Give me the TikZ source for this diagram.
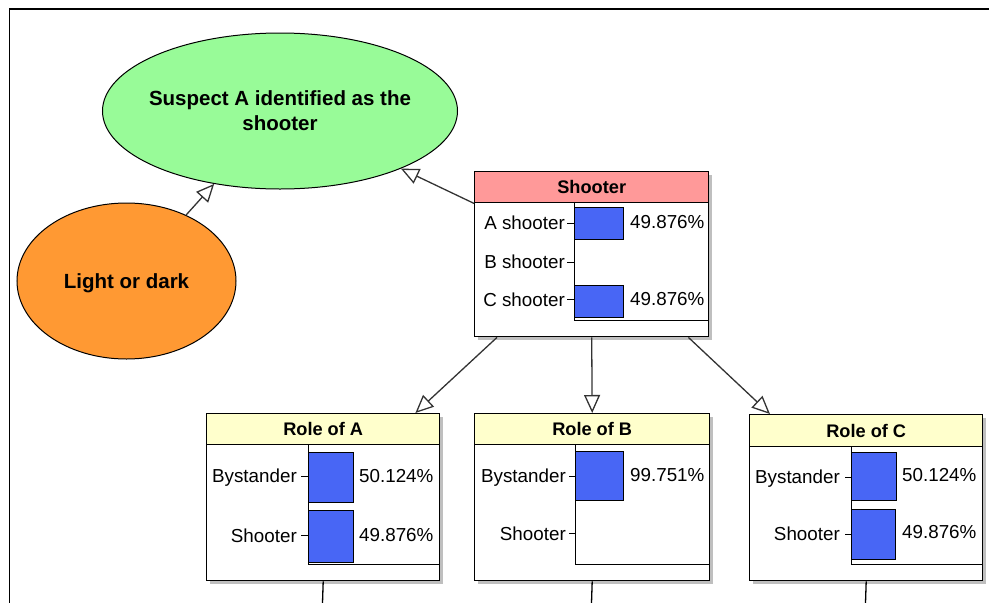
\documentclass[tikz,border=0pt]{standalone}
\usepackage{fontspec}
\setmainfont{Liberation Sans}
\usepackage{xcolor}
\usetikzlibrary{arrows.meta,positioning,calc,shapes.geometric,shadows}
\definecolor{suspectgreen}{RGB}{152,251,152}
\definecolor{lightorange}{RGB}{255,153,51}
\definecolor{headpink}{RGB}{255,153,153}
\definecolor{headyellow}{RGB}{255,255,204}
\definecolor{barblue}{RGB}{72,102,245}

\begin{document}
\begin{tikzpicture}[
  x=1pt, y=-1pt,
  every node/.style={font=\fontsize{18.8}{22}\selectfont},
  oval/.style={draw, ellipse, line width=1pt, inner sep=0pt,
               font=\fontsize{20.5}{25}\selectfont\bfseries, align=center},
  monitor/.style={draw, line width=1.4pt, fill=white, anchor=north west, inner sep=0pt,
                  drop shadow={shadow xshift=3pt, shadow yshift=-3pt, fill=black!25, opacity=1}},
  head/.style={draw, line width=1.4pt, anchor=north west, inner sep=0pt,
               font=\fontsize{18.2}{22}\selectfont\bfseries},
  state/.style={anchor=base east, inner sep=0pt},
  pct/.style={anchor=base west, inner sep=0pt},
  bar/.style={draw, fill=barblue, line width=1pt},
  axis/.style={line width=1pt},
  arr/.style={-{Triangle[open, length=18pt, width=16pt]}, line width=1.3pt, draw=black!80}
]
  \useasboundingbox (0,0) rectangle (989,603);
  \draw[line width=1.2pt] (9.5,603) -- (9.5,9) -- (989,9);

  % hypothesis and evidence
  \node[oval, fill=suspectgreen, minimum width=355, minimum height=156,
        label={[font=\fontsize{20.5}{25}\selectfont\bfseries, align=center]center:Suspect A identified as the\\shooter}]
        (suspect) at (280,111) {};
  \node[oval, fill=lightorange, minimum width=219, minimum height=156, text depth=0pt]
        (light) at (126.5,281) {Light or dark};

  % Shooter
  \node[monitor, minimum width=234, minimum height=165] (shooter) at (474,171) {};
  \node[head, fill=headpink, minimum width=234, minimum height=31] (shooterT) at (474,171) {Shooter};
  \draw[axis] (574,202) -- (574,320) -- (708,320);
  \draw[bar] (574,207) rectangle (623,239);
  \draw[bar] (574,285) rectangle (623,317);
  \node[state] (sA) at (565,229) {A shooter};
  \node[state] (sB) at (565,268) {B shooter};
  \node[state] (sC) at (565,306) {C shooter};
  \draw[axis] (567,223) -- (574,223);
  \draw[axis] (567,262) -- (574,262);
  \draw[axis] (567,299) -- (574,299);
  \node[pct] (pA) at (630,228) {49.876\%};
  \node[pct] (pC) at (630,305) {49.876\%};

  % Role of A
  \node[monitor, minimum width=233, minimum height=167] (roleA) at (206,413) {};
  \node[head, fill=headyellow, minimum width=233, minimum height=31] (roleAT) at (206,413) {Role of A};
  \draw[axis] (308,444) -- (308,564) -- (439,564);
  \draw[bar] (308,452) rectangle (353,502);
  \draw[bar] (308,510) rectangle (353,562);
  \node[state] (aBy) at (297,482) {Bystander};
  \node[state] (aSh) at (297,542) {Shooter};
  \draw[axis] (301,476) -- (308,476);
  \draw[axis] (301,535) -- (308,535);
  \node[pct] (paBy) at (359,482) {50.124\%};
  \node[pct] (paSh) at (359,541) {49.876\%};

  % Role of B
  \node[monitor, minimum width=235, minimum height=167] (roleB) at (474,413) {};
  \node[head, fill=headyellow, minimum width=235, minimum height=31] (roleBT) at (474,413) {Role of B};
  \draw[axis] (575,444) -- (575,564) -- (709,564);
  \draw[bar] (575,451) rectangle (623,500);
  \node[state] (bBy) at (566,482) {Bystander};
  \node[state] (bSh) at (566,540) {Shooter};
  \draw[axis] (569,476) -- (575,476);
  \draw[axis] (569,533) -- (575,533);
  \node[pct] (pbBy) at (630,481) {99.751\%};

  % Role of C
  \node[monitor, minimum width=233, minimum height=166] (roleC) at (749,414) {};
  \node[head, fill=headyellow, minimum width=233, minimum height=32] (roleCT) at (749,414) {Role of C};
  \draw[axis] (851,446) -- (851,564) -- (982,564);
  \draw[bar] (851,452) rectangle (896,500);
  \draw[bar] (851,509) rectangle (895,559);
  \node[state] (cBy) at (840,483) {Bystander};
  \node[state] (cSh) at (840,540) {Shooter};
  \draw[axis] (845,477) -- (851,477);
  \draw[axis] (845,534) -- (851,534);
  \node[pct] (pcBy) at (902,481) {50.124\%};
  \node[pct] (pcSh) at (902,538) {49.876\%};

  % links
  \draw[arr] (light) -- (suspect);
  \draw[arr] (shooterT.south west) -- (suspect);
  \draw[arr] ($(shooter.south west)+(23,0)$) -- ($(roleA.north east)+(-25,0)$);
  \draw[arr] (shooter.south) -- (roleB.north);
  \draw[arr] ($(shooter.south east)+(-21,0)$) -- ($(roleC.north west)+(21,0)$);

  % links leaving the view
  \coordinate (outA) at (322.5,603);
  \coordinate (outB) at (591.5,603);
  \coordinate (outC) at (865.5,603);
  \draw[line width=1.3pt] (roleA.south) -- (outA);
  \draw[line width=1.3pt] (roleB.south) -- (outB);
  \draw[line width=1.3pt] (roleC.south) -- (outC);
\end{tikzpicture}
\end{document}
